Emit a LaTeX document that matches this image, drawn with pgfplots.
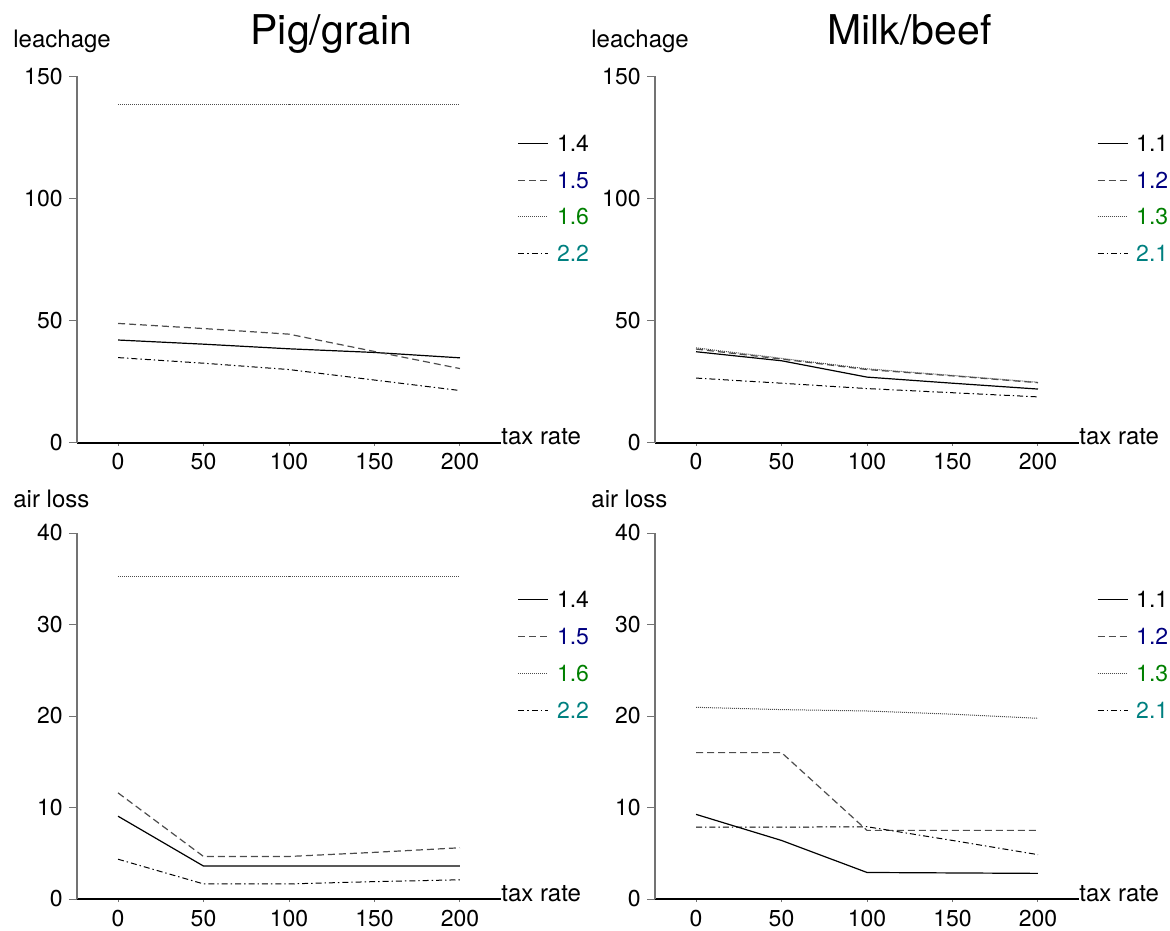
\documentclass[border=0pt]{standalone}
\usepackage{fontspec}
\setmainfont{TeX Gyre Heros}
\usepackage{pgfplots}
\pgfplotsset{compat=1.18}

\definecolor{legblue}{RGB}{0,0,128}
\definecolor{leggreen}{RGB}{0,128,0}
\definecolor{legteal}{RGB}{0,128,128}

\newcommand{\lf}{\fontsize{12}{14}\selectfont}
\newcommand{\kf}{\fontsize{11.5}{13.5}\selectfont}
\newcommand{\tf}{\fontsize{20.5}{24}\selectfont}

\pgfplotsset{
  panel/.style={
    width=212pt, height=183pt, scale only axis,
    clip=false,
    axis x line*=bottom, axis y line*=left,
    xmin=-24, xmax=224,
    xtick={0,50,100,150,200},
    tick align=outside,
    major tick length=4pt,
    /pgf/number format/assume math mode=true,
    ticklabel style={font=\kf},
    x axis line style={line width=1pt, black},
    y axis line style={line width=0.6pt, black!55},
    xtick style={black!55, line width=0.5pt, /pgfplots/major tick length=1.5pt},
    ytick style={black!55, line width=0.5pt},
    xticklabel style={inner sep=0pt, anchor=north, yshift=-1.3pt},
    yticklabel style={inner sep=0pt, anchor=east, xshift=-3pt},
    xlabel={tax rate},
    xlabel style={at={(rel axis cs:1,0)}, anchor=base west, inner sep=0pt, yshift=-1.2pt, font=\lf},
    title style={at={(rel axis cs:0.6,1)}, anchor=base, inner sep=0pt, yshift=10pt, font=\tf},
    legend style={draw=none, fill=none, at={(rel axis cs:1,1)}, anchor=north west,
      xshift=5.2pt, yshift=-27.2pt, font=\kf, row sep=10.4pt, column sep=4pt,
      nodes={inner sep=0pt, text height=8pt, text depth=0pt}},
    legend cell align=left,
    legend image code/.code={\draw[##1] (0pt,0pt) -- (15pt,0pt);},
  },
  s14/.style={black, line width=0.6pt},
  s15/.style={black!70, line width=0.6pt, dash pattern=on 3.5pt off 2pt},
  s16/.style={black!70, line width=0.5pt, dash pattern=on 0.5pt off 0.5pt},
  s22/.style={black, line width=0.5pt, dash pattern=on 3pt off 1.5pt on 0.7pt off 1.5pt},
}

\begin{document}
\begin{tikzpicture}
\useasboundingbox (0,0) rectangle (585pt,-465pt);

% ---------- Top left: Pig/grain leachage
\begin{axis}[panel, at={(38.5pt,-221.25pt)}, anchor=south west,
  ymin=0, ymax=150, ytick={0,50,100,150}, title={Pig/grain}]
\addplot[s14] coordinates {(0,42.0)(50,40.3)(100,38.4)(150,36.9)(200,34.7)};
\addlegendentry{1.4}
\addplot[s15] coordinates {(0,48.8)(50,46.7)(100,44.4)(150,37.3)(200,30.3)};
\addlegendentry{\textcolor{legblue}{1.5}}
\addplot[s16] coordinates {(0,138.5)(50,138.5)(100,138.5)(150,138.5)(200,138.5)};
\addlegendentry{\textcolor{leggreen}{1.6}}
\addplot[s22] coordinates {(0,34.8)(50,32.5)(100,29.9)(150,25.6)(200,21.3)};
\addlegendentry{\textcolor{legteal}{2.2}}
\node[anchor=base west, inner sep=0pt, font=\lf, xshift=-32pt, yshift=14.25pt] at (rel axis cs:0,1) {leachage};
\end{axis}

% ---------- Top right: Milk/beef leachage
\begin{axis}[panel, at={(327.5pt,-221.25pt)}, anchor=south west,
  ymin=0, ymax=150, ytick={0,50,100,150}, title={Milk/beef},
  legend style={xshift=0.6pt}]
\addplot[s14] coordinates {(0,37.2)(50,33.5)(100,26.8)(150,24.3)(200,21.9)};
\addlegendentry{1.1}
\addplot[s15] coordinates {(0,38.3)(50,34.2)(100,29.9)(150,27.3)(200,24.5)};
\addlegendentry{\textcolor{legblue}{1.2}}
\addplot[s16] coordinates {(0,38.8)(50,34.5)(100,30.2)(150,27.5)(200,24.7)};
\addlegendentry{\textcolor{leggreen}{1.3}}
\addplot[s22] coordinates {(0,26.4)(50,24.3)(100,22.1)(150,20.4)(200,18.7)};
\addlegendentry{\textcolor{legteal}{2.1}}
\node[anchor=base west, inner sep=0pt, font=\lf, xshift=-32pt, yshift=14.25pt] at (rel axis cs:0,1) {leachage};
\end{axis}

% ---------- Bottom left: Pig/grain air loss
\begin{axis}[panel, at={(38.5pt,-449.5pt)}, anchor=south west,
  ymin=0, ymax=40, ytick={0,10,20,30,40}]
\addplot[s14] coordinates {(0,9.05)(50,3.6)(100,3.6)(150,3.6)(200,3.6)};
\addlegendentry{1.4}
\addplot[s15] coordinates {(0,11.6)(50,4.65)(100,4.65)(150,5.1)(200,5.6)};
\addlegendentry{\textcolor{legblue}{1.5}}
\addplot[s16] coordinates {(0,35.3)(50,35.3)(100,35.3)(150,35.3)(200,35.3)};
\addlegendentry{\textcolor{leggreen}{1.6}}
\addplot[s22] coordinates {(0,4.35)(50,1.65)(100,1.65)(150,1.9)(200,2.1)};
\addlegendentry{\textcolor{legteal}{2.2}}
\node[anchor=base west, inner sep=0pt, font=\lf, xshift=-32pt, yshift=13pt] at (rel axis cs:0,1) {air loss};
\end{axis}

% ---------- Bottom right: Milk/beef air loss
\begin{axis}[panel, at={(327.5pt,-449.5pt)}, anchor=south west,
  ymin=0, ymax=40, ytick={0,10,20,30,40},
  legend style={xshift=0.6pt}]
\addplot[s14] coordinates {(0,9.25)(50,6.4)(100,2.9)(150,2.85)(200,2.8)};
\addlegendentry{1.1}
\addplot[s15] coordinates {(0,16.0)(50,16.0)(100,7.5)(150,7.5)(200,7.5)};
\addlegendentry{\textcolor{legblue}{1.2}}
\addplot[s16] coordinates {(0,20.95)(50,20.7)(100,20.55)(150,20.2)(200,19.75)};
\addlegendentry{\textcolor{leggreen}{1.3}}
\addplot[s22] coordinates {(0,7.85)(50,7.85)(100,7.9)(150,6.4)(200,4.85)};
\addlegendentry{\textcolor{legteal}{2.1}}
\node[anchor=base west, inner sep=0pt, font=\lf, xshift=-32pt, yshift=13pt] at (rel axis cs:0,1) {air loss};
\end{axis}
\end{tikzpicture}
\end{document}
